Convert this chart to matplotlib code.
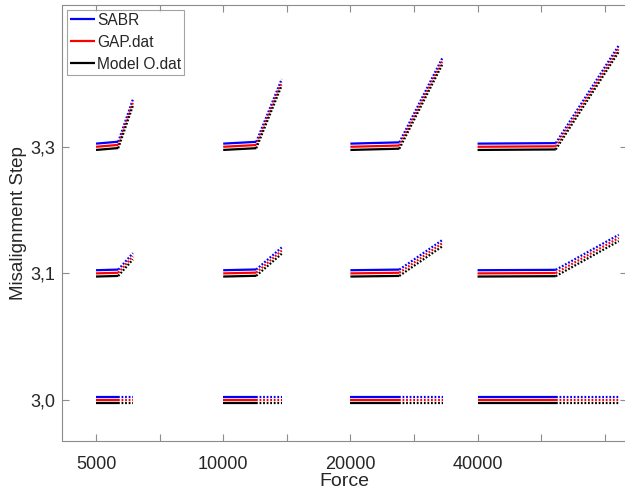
import matplotlib
matplotlib.use("Agg")
import matplotlib.pyplot as plt

plt.rcParams['font.family'] = ['Liberation Sans', 'DejaVu Sans']

# Force blocks and misalignment step levels
force_labels = ['5000', '10000', '20000', '40000']
step_labels = ['3,0', '3,1', '3,3']

series_names = ['SABR', 'GAP.dat', 'Model O.dat']
series_colors = ['#0000ff', '#ff0000', '#000000']
series_offsets = [0.025, 0.0, -0.025]

# x extent of each block (tick units from block start): end of solid part, end of dotted part
solid_end = [0.35, 0.52, 0.77, 1.23]
dotted_end = [0.58, 0.92, 1.45, 2.22]

# slight drift along the solid part, per step level and block
solid_rise = {
    '3,0': [0.0, 0.0, 0.0, 0.0],
    '3,1': [0.005, 0.006, 0.005, 0.003],
    '3,3': [0.015, 0.014, 0.01, 0.004],
}
# total rise at the end of the dotted part, per step level and block
dotted_rise = {
    '3,0': [0.0, 0.0, 0.0, 0.0],
    '3,1': [0.135, 0.18, 0.24, 0.28],
    '3,3': [0.35, 0.51, 0.68, 0.775],
}

block_start = [1, 3, 5, 7]
level_pos = {s: i + 1 for i, s in enumerate(step_labels)}

fig = plt.figure(figsize=(6.25, 4.95), dpi=100)
ax = fig.add_axes([62 / 625, 54 / 495, 565 / 625, 436 / 495])

text_color = '#262626'
axis_color = '#8c8c8c'
lw = 1.6

handles = []
for k, (name, col, off) in enumerate(zip(series_names, series_colors, series_offsets)):
    for step in step_labels:
        y0 = level_pos[step] + off
        for b, x0 in enumerate(block_start):
            xs = x0 + solid_end[b]
            xd = x0 + dotted_end[b]
            ys = y0 + solid_rise[step][b]
            yd = y0 + dotted_rise[step][b]
            line, = ax.plot([x0, xs], [y0, ys], color=col, lw=lw,
                            solid_capstyle='butt')
            ax.plot([xs, xd], [ys, yd], color=col, lw=lw,
                    linestyle=(0, (0.8, 0.8)), dash_capstyle='butt')
    handles.append(line)

ax.set_xlim(0.465, 9.35)
ax.set_ylim(0.676, 4.12)

xticks = list(range(1, 10))
xlabels = ['' for _ in xticks]
for lab, x in zip(force_labels, block_start):
    xlabels[x - 1] = lab
ax.set_xticks(xticks)
ax.set_xticklabels(xlabels)
ax.set_yticks([level_pos[s] for s in step_labels])
ax.set_yticklabels(step_labels)

ax.tick_params(direction='in', length=5, width=0.8, color=axis_color,
               labelcolor=text_color, labelsize=13, top=True, right=True)
ax.tick_params(axis='x', pad=11)
ax.tick_params(axis='y', pad=5)
for sp in ax.spines.values():
    sp.set_color(axis_color)
    sp.set_linewidth(0.8)

ax.set_xlabel('Force', fontsize=14, color=text_color, labelpad=0)
ax.set_ylabel('Misalignment Step', fontsize=13.5, color=text_color)
ax.yaxis.set_label_coords(-0.062, 0.5)

leg = ax.legend(handles, series_names, loc='upper left', fontsize=11.2,
                handlelength=1.6, handletextpad=0.15, borderpad=0.2,
                labelspacing=0.45, borderaxespad=0.3, frameon=True,
                fancybox=False)
leg.get_frame().set_edgecolor(axis_color)
leg.get_frame().set_linewidth(0.8)
for t in leg.get_texts():
    t.set_color(text_color)

fig.savefig('out.png', dpi=100)
